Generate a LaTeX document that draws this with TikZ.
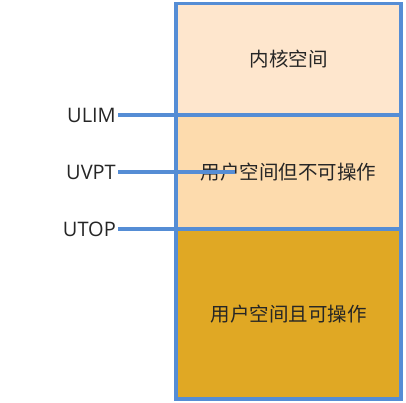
\documentclass[tikz,border=0pt]{standalone}
\usepackage{fontspec}
\setmainfont{Open Sans}
\newfontfamily\cjk{Noto Sans CJK SC}
\definecolor{edgeblue}{RGB}{85,141,213}
\definecolor{kernfill}{RGB}{254,230,205}
\definecolor{roufill}{RGB}{253,219,173}
\definecolor{rwfill}{RGB}{224,168,36}
\tikzset{
  band/.style={anchor=north west, inner sep=0pt, outer sep=0pt, draw=none, minimum width=225pt, font=\cjk\fontsize{19.5}{22}\selectfont, text=black!85},
  addrlabel/.style={anchor=east, inner sep=2pt, font=\fontsize{20}{24}\selectfont, text=black!85},
  blueline/.style={draw=edgeblue, line width=3.3pt},
}
\begin{document}
\begin{tikzpicture}[x=1pt, y=-1pt]
\useasboundingbox (0,0) rectangle (406,402);
\node (kern) [band, fill=kernfill, minimum height=111.5pt] at (176,3.5) {内核空间};
\node (uro) [band, fill=roufill, minimum height=114pt] at (176,115) {用户空间但不可操作};
\node (urw) [band, fill=rwfill, minimum height=170pt] at (176,229) {用户空间且可操作};
\draw[blueline] (kern.north west) rectangle (urw.south east);
\node (ulim) [addrlabel] at (118,115) {ULIM};
\node (uvpt) [addrlabel] at (118,172) {UVPT};
\node (utop) [addrlabel] at (118,229) {UTOP};
\coordinate (ulimend) at (401,115);
\coordinate (uvptend) at (235,172);
\coordinate (utopend) at (401,229);
\draw[blueline] (ulim.east) -- (ulimend);
\draw[blueline] (uvpt.east) -- (uvptend);
\draw[blueline] (utop.east) -- (utopend);
\end{tikzpicture}
\end{document}
